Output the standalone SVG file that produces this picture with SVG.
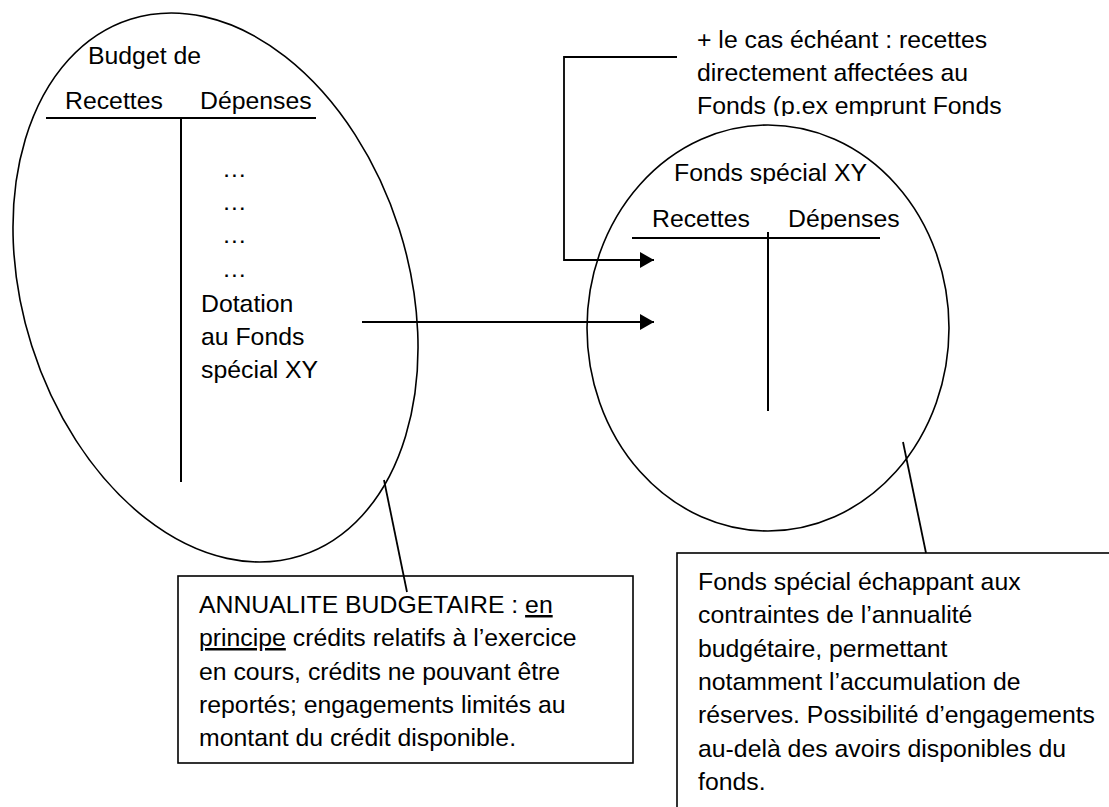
<svg xmlns="http://www.w3.org/2000/svg" width="1109" height="807" viewBox="0 0 1109 807">
<style>
text{font-family:"Liberation Sans",Arial,sans-serif;font-size:24.8px;fill:#000}
.shape{fill:none;stroke:#000;stroke-width:1.6}
.tl{stroke:#000;stroke-width:2;fill:none}
.conn{stroke:#000;stroke-width:1.8;fill:none}
.box{fill:#fff;stroke:#000;stroke-width:1.6}
</style>
<defs>
<marker id="arr" viewBox="0 0 14 16" refX="14" refY="8" markerWidth="14" markerHeight="16" markerUnits="userSpaceOnUse" orient="auto">
<path d="M0,0 L14,8 L0,16 Z" fill="#000"/>
</marker>
<clipPath id="clipTop"><rect x="680" y="0" width="429" height="116"/></clipPath>
<clipPath id="clipFonds"><rect x="600" y="140" width="320" height="44"/></clipPath>
<clipPath id="clipRD"><rect x="600" y="190" width="320" height="39.5"/></clipPath>
</defs>

<g id="budget">
<ellipse class="shape" cx="215.5" cy="287.5" rx="192.8" ry="281.4" transform="rotate(-17.6 215.5 287.5)"/>
<text x="88" y="64">Budget de</text>
<text x="65" y="109">Recettes</text>
<text x="200" y="109">Dépenses</text>
<line class="tl" x1="46" y1="118" x2="316" y2="118"/>
<line class="tl" x1="181" y1="118" x2="181" y2="482"/>
<text x="222" y="177">…</text>
<text x="222" y="210">…</text>
<text x="222" y="243">…</text>
<text x="222" y="277">…</text>
<text x="201" y="312">Dotation</text>
<text x="201" y="345">au Fonds</text>
<text x="201" y="378">spécial XY</text>
</g>

<g id="fonds">
<ellipse class="shape" cx="768" cy="328" rx="181" ry="203"/>
<g clip-path="url(#clipFonds)"><text x="674" y="181">Fonds spécial XY</text></g>
<g clip-path="url(#clipRD)">
<text x="652" y="227">Recettes</text>
<text x="788" y="227">Dépenses</text>
</g>
<line class="tl" x1="632" y1="238" x2="880" y2="238"/>
<line class="tl" x1="768" y1="232" x2="768" y2="411"/>
</g>

<g id="recettes-note" clip-path="url(#clipTop)">
<text x="697" y="48">+ le cas échéant : recettes</text>
<text x="697" y="81">directement affectées au</text>
<text x="697" y="114">Fonds (p.ex emprunt Fonds</text>
</g>

<g id="annualite">
<rect class="box" x="178" y="576" width="455" height="187"/>
<text x="199" y="613">ANNUALITE BUDGETAIRE : <tspan text-decoration="underline">en</tspan></text>
<text x="199" y="646"><tspan text-decoration="underline">principe</tspan> crédits relatifs à l’exercice</text>
<text x="199" y="680">en cours, crédits ne pouvant être</text>
<text x="199" y="713">reportés; engagements limités au</text>
<text x="199" y="746">montant du crédit disponible.</text>
</g>

<g id="fonds-note">
<rect class="box" x="677" y="553" width="450" height="300"/>
<text x="698" y="590">Fonds spécial échappant aux</text>
<text x="698" y="623">contraintes de l’annualité</text>
<text x="698" y="657">budgétaire, permettant</text>
<text x="698" y="690">notamment l’accumulation de</text>
<text x="698" y="723">réserves. Possibilité d’engagements</text>
<text x="698" y="757">au-delà des avoirs disponibles du</text>
<text x="698" y="790">fonds.</text>
</g>

<g id="connectors">
<path class="conn" d="M677,57 H564 V260 H654" marker-end="url(#arr)"/>
<path class="conn" d="M362,322 H654" marker-end="url(#arr)"/>
<path class="conn" d="M384,480 L407,592"/>
<path class="conn" d="M903,442 L926,553"/>
</g>
</svg>
